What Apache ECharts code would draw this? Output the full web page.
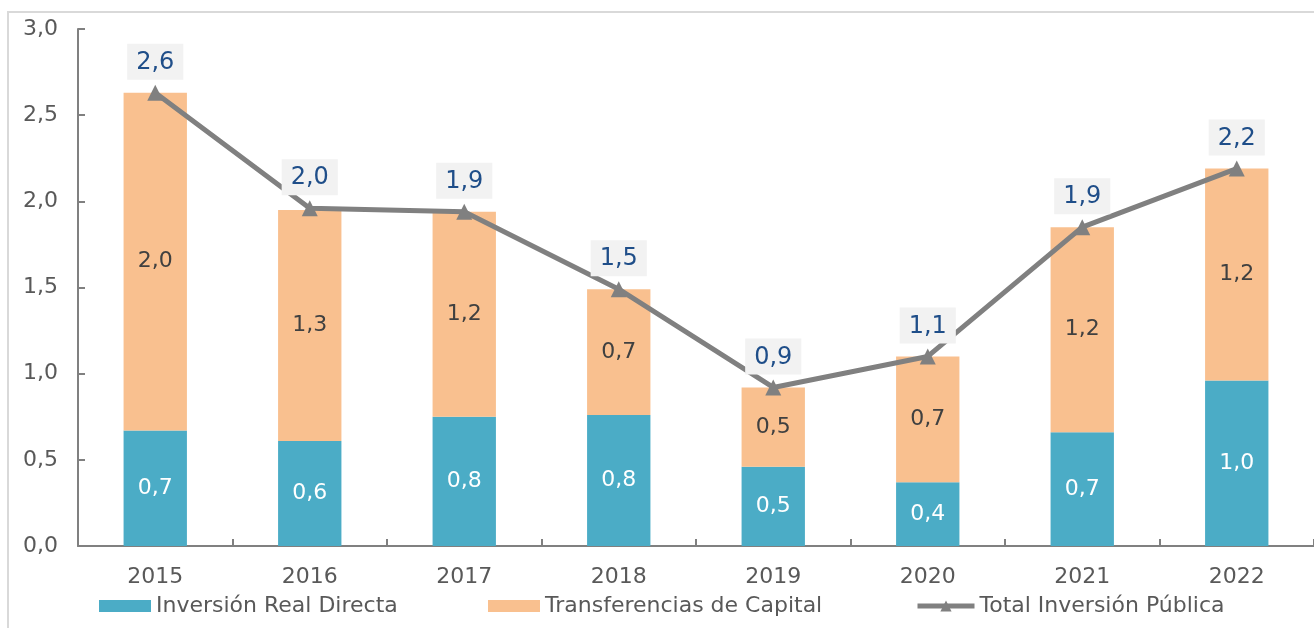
<!DOCTYPE html>
<html><head><meta charset="utf-8">
<script src="https://cdn.jsdelivr.net/npm/echarts@6/dist/echarts.min.js"></script>
<style>html,body{margin:0;padding:0;background:#fff}#c{width:1314px;height:628px}</style>
</head><body><div id="c"></div>
<script>
const years = ['2015','2016','2017','2018','2019','2020','2021','2022'];
const inversionReal = [0.67, 0.61, 0.75, 0.76, 0.46, 0.37, 0.66, 0.96];
const transferencias = [1.96, 1.34, 1.19, 0.73, 0.46, 0.73, 1.19, 1.23];
const totalInversion = [2.63, 1.96, 1.94, 1.49, 0.92, 1.10, 1.85, 2.19];
const yTicks = [0, 0.5, 1, 1.5, 2, 2.5, 3];
const seriesNames = ['Inversión Real Directa', 'Transferencias de Capital', 'Total Inversión Pública'];

const FONT = 'DejaVu Sans';
const fmt = v => Number(v).toFixed(1).replace('.', ',');
const chart = echarts.init(document.getElementById('c'));
const legendBase = {
  bottom: 11, padding: 0, itemWidth: 52, itemHeight: 12,
  textStyle: {fontFamily: FONT, fontSize: 22, color: '#595959', padding:[0,0,0,0]}
};
chart.setOption({
  animation: false,
  textStyle: {fontFamily: FONT},
  graphic: [{type:'rect', z:-10, shape:{x:8,y:12,width:1330,height:640}, style:{fill:'none', stroke:'#D9D9D9', lineWidth:2}}],
  grid: {left: 78, right: 0, top: 29, bottom: 82, containLabel: false},
  legend: [
    Object.assign({}, legendBase, {left: 99, data: [{name: seriesNames[0], icon:'rect'}]}),
    Object.assign({}, legendBase, {left: 488, data: [{name: seriesNames[1], icon:'rect'}]}),
    Object.assign({}, legendBase, {left: 915, itemWidth: 57, itemHeight: 14,
      lineStyle: {width: 5, color: '#808080'}, itemStyle: {color: '#808080'},
      data: [{name: seriesNames[2]}]})
  ],
  xAxis: {
    type: 'category', data: years,
    axisLine: {lineStyle: {color: '#808080', width: 2}},
    axisTick: {show: true, inside: true, length: 7, lineStyle:{color:'#808080', width:2}},
    axisLabel: {fontSize: 22, color: '#595959', margin: 20, fontFamily: FONT}
  },
  yAxis: {
    type: 'value', min: 0, max: 3, interval: 0.5,
    axisLine: {show: true, lineStyle: {color: '#808080', width: 2}},
    axisTick: {show: true, inside: true, length: 7, lineStyle:{color:'#808080', width:2}},
    splitLine: {show: false},
    axisLabel: {fontSize: 22, color: '#595959', margin: 20, formatter: v => fmt(v), fontFamily: FONT}
  },
  series: [
    {name: seriesNames[0], type:'bar', stack:'s', data: inversionReal, barWidth: '41%',
     itemStyle:{color:'#4BACC6'},
     label:{show:true, position:'inside', color:'#fff', fontSize:22, fontFamily: FONT, formatter: p => fmt(p.value)}},
    {name: seriesNames[1], type:'bar', stack:'s', data: transferencias, barWidth: '41%',
     itemStyle:{color:'#F9C08F'},
     label:{show:true, position:'inside', color:'#404040', fontSize:22, fontFamily: FONT, formatter: p => fmt(p.value)}},
    {name: seriesNames[2], type:'line', data: totalInversion, z: 5,
     lineStyle:{color:'#808080', width:5}, itemStyle:{color:'#808080'},
     symbol:'triangle', symbolSize: 16,
     label:{show:true, position:'top', distance: 5, color:'#1F4E89', fontSize:24, fontFamily: FONT,
       backgroundColor:'#F2F2F2', padding:[7,9,5,9], formatter: p => fmt(p.value)}}
  ]
});
</script></body></html>
